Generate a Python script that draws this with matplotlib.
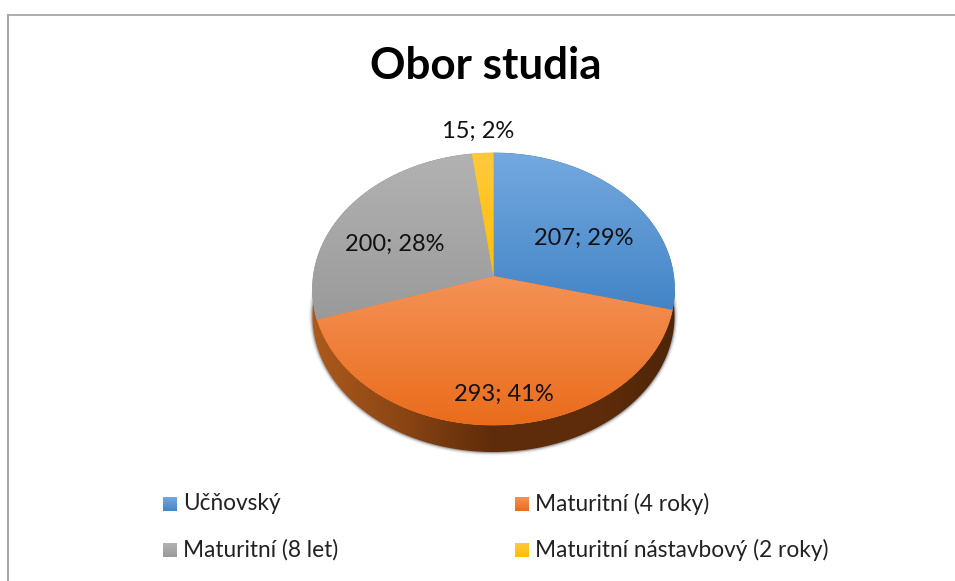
import numpy as np
import matplotlib
matplotlib.use('Agg')
import matplotlib.pyplot as plt
from matplotlib.colors import LinearSegmentedColormap
from matplotlib.patches import Polygon

plt.rcParams['font.family'] = ['Lato', 'DejaVu Sans']

# data
categories = ['Učňovský', 'Maturitní (4 roky)', 'Maturitní (8 let)', 'Maturitní nástavbový (2 roky)']
values = [207, 293, 200, 15]
percents = [29, 41, 28, 2]

# top and bottom colour of each slice
colors_top = ['#74A9E0', '#F49257', '#B2B2B2', '#FFC93F']
colors_bottom = ['#4384C6', '#EA6C1B', '#9A9A9A', '#FFBF00']

# layout, in pixels of the 955x581 picture
cx, cy = 493.5, 276.0
rx, ry = 180.2, 134.8
persp = 0.0956
depth = 27
label_pos = [(584, 238), (504, 394), (395, 244), (478, 131)]
legend_pos = [(163, 504), (515, 504), (163, 550), (515, 550)]

fig = plt.figure(figsize=(9.55, 5.81), dpi=100)
ax = fig.add_axes([0, 0, 1, 1])


def project(theta):
    # slanted disc, the apex is not in the middle of the ellipse
    X, Y = np.sin(theta), np.cos(theta)
    d = 1 + persp * Y
    return cx + rx * X / d, cy - ry * Y / d


def gradient(poly, extent, c1, c2, horizontal=False, z=2):
    cmap = LinearSegmentedColormap.from_list('g', [c1, c2] if isinstance(c1, str) else c1)
    g = np.linspace(0, 1, 256)
    g = g.reshape(1, -1) if horizontal else g.reshape(-1, 1)
    im = ax.imshow(g, extent=extent, cmap=cmap, aspect='auto', zorder=z, origin='upper')
    patch = Polygon(poly, closed=True, transform=ax.transData, fc='none', ec='none')
    ax.add_patch(patch)
    im.set_clip_path(patch)


fracs = np.cumsum([0] + values) / sum(values) * 2 * np.pi

# soft shadow round the lower rim
t = np.linspace(np.pi * 0.45, np.pi * 1.6, 200)
sx, sy = project(t)
for w, a in [(5, 0.06), (3, 0.12), (1.5, 0.2)]:
    ax.plot(sx, sy + depth, color='black', lw=w, alpha=a, zorder=1, solid_capstyle='round')

# side of the pie
t = np.linspace(np.pi * 0.42, np.pi * 1.6, 300)
sx, sy = project(t)
side = np.column_stack([np.r_[sx, sx[::-1]], np.r_[sy, sy[::-1] + depth]])
side_cmap = [(0, '#AD5A1C'), (0.25, '#8A4514'), (0.5, '#5E2C0A'), (0.8, '#5E2C0A'), (1, '#4E2508')]
gradient(side, (312, 675, 460, 290), side_cmap, None, horizontal=True, z=2)

# top face
for i in range(len(values)):
    t = np.linspace(fracs[i], fracs[i + 1], 150)
    px, py = project(t)
    poly = np.column_stack([np.r_[cx, px], np.r_[cy, py]])
    ax.add_patch(Polygon(poly, closed=True, fc=colors_bottom[i], ec=colors_bottom[i], lw=0.5, zorder=3))
    gradient(poly, (305, 680, max(py.max(), cy), min(py.min(), cy)),
             colors_top[i], colors_bottom[i], z=4)

# data labels
for i in range(len(values)):
    ax.text(label_pos[i][0], label_pos[i][1], '%d; %d%%' % (values[i], percents[i]),
            fontsize=17, color='#111111', ha='center', va='center', zorder=6)

ax.text(486, 66, 'Obor studia', fontsize=31.7, fontweight='bold', color='black',
        ha='center', va='center', zorder=6)

# legend
for i in range(len(categories)):
    x, y = legend_pos[i]
    box = [(x, y - 7), (x + 13.5, y - 7), (x + 13.5, y + 7), (x, y + 7)]
    gradient(box, (x, x + 13.5, y + 7, y - 7), colors_top[i], colors_bottom[i], z=4)
    ax.text(x + 20, y, categories[i], fontsize=16.3, color='#222222', ha='left', va='center', zorder=6)

# chart frame, only the top and left edges are in the picture
ax.plot([8, 955], [15, 15], color='#A0A0A0', lw=1.2, zorder=1)
ax.plot([8, 8], [15, 581], color='#A8A8A8', lw=1.5, zorder=1)

ax.set_xlim(0, 955)
ax.set_ylim(581, 0)
ax.axis('off')

fig.savefig('out.png', dpi=100)
